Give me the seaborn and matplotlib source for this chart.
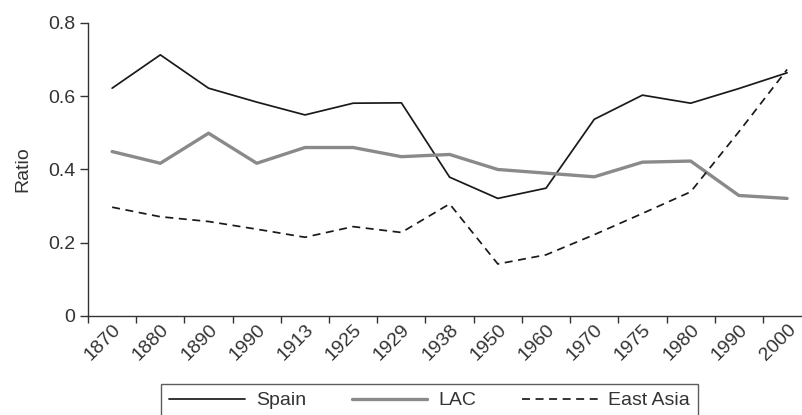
import numpy as np
import pandas as pd
import matplotlib
matplotlib.use("Agg")
import matplotlib.pyplot as plt
import seaborn as sns
from matplotlib.ticker import FixedLocator, FuncFormatter

# ------------------------- data -------------------------
years = ['1870', '1880', '1890', '1990', '1913', '1925', '1929', '1938',
         '1950', '1960', '1970', '1975', '1980', '1990', '2000']
spain = [0.622, 0.713, 0.622, 0.584, 0.549, 0.581, 0.582, 0.379,
         0.321, 0.349, 0.537, 0.603, 0.581, 0.621, 0.664]
lac = [0.449, 0.417, 0.499, 0.417, 0.460, 0.460, 0.435, 0.441,
       0.400, 0.390, 0.380, 0.420, 0.423, 0.329, 0.321]
east_asia = [0.297, 0.271, 0.258, 0.237, 0.215, 0.244, 0.228, 0.306,
             0.142, 0.167, 0.222, 0.280, 0.339, 0.503, 0.673]

df = pd.DataFrame({'pos': np.arange(len(years)), 'year': years,
                   'Spain': spain, 'LAC': lac, 'East Asia': east_asia})

# ------------------------- style -------------------------
sns.set_style('ticks')
plt.rcParams['font.family'] = ['Liberation Sans', 'DejaVu Sans']
txt = '#333333'
fs = 14

fig = plt.figure(figsize=(8.03, 4.15), dpi=100)
ax = fig.add_axes([0.1096, 0.2386, 0.8904, 0.706])

styles = {
    'Spain': dict(color='#1a1a1a', lw=1.25, ls='-'),
    'LAC': dict(color='#8a8a8a', lw=2.4, ls='-'),
    'East Asia': dict(color='#1a1a1a', lw=1.25, ls=(0, (4.6, 3.2))),
}
for name, st in styles.items():
    sns.lineplot(data=df, x='pos', y=name, ax=ax, color=st['color'],
                 linewidth=st['lw'], linestyle=st['ls'], label=name)

# categories: ticks on the boundaries, labels in the middle
n = len(years)
ax.set_xlim(-0.5, 14.33)
ax.xaxis.set_major_locator(FixedLocator(np.arange(n) - 0.5))
ax.xaxis.set_minor_locator(FixedLocator(np.arange(n)))
ax.set_xticklabels([''] * n)
ax.set_xticklabels(years, minor=True, rotation=45, ha='right',
                   rotation_mode='anchor', fontsize=fs, color=txt)
ax.tick_params(axis='x', which='minor', length=0, pad=4)
ax.tick_params(axis='x', which='major', length=5, width=1, color=txt, direction='out')

ax.set_ylim(0, 0.8)
ax.set_yticks([0, 0.2, 0.4, 0.6, 0.8])
ax.yaxis.set_major_formatter(FuncFormatter(lambda v, p: '0' if v == 0 else f'{v:.1f}'))
ax.tick_params(axis='y', length=6, width=1, color=txt, labelsize=fs,
               labelcolor=txt, direction='out', pad=3)

ax.set_xlabel('')
ax.set_ylabel('Ratio', fontsize=fs, color=txt, labelpad=12)

sns.despine(ax=ax)
for s in ['left', 'bottom']:
    ax.spines[s].set_color(txt)
    ax.spines[s].set_linewidth(1)

ax.get_legend().remove()
handles, labels = ax.get_legend_handles_labels()
leg = fig.legend(handles, labels, loc='upper center', bbox_to_anchor=(0.535, 0.0747),
                 ncol=3, frameon=True, fancybox=False, fontsize=fs,
                 handlelength=3.9, handletextpad=0.55, columnspacing=2.35,
                 borderpad=0.4, borderaxespad=0, edgecolor=txt)
leg.get_frame().set_linewidth(1)
for t in leg.get_texts():
    t.set_color(txt)

fig.savefig('out.png', dpi=100)
